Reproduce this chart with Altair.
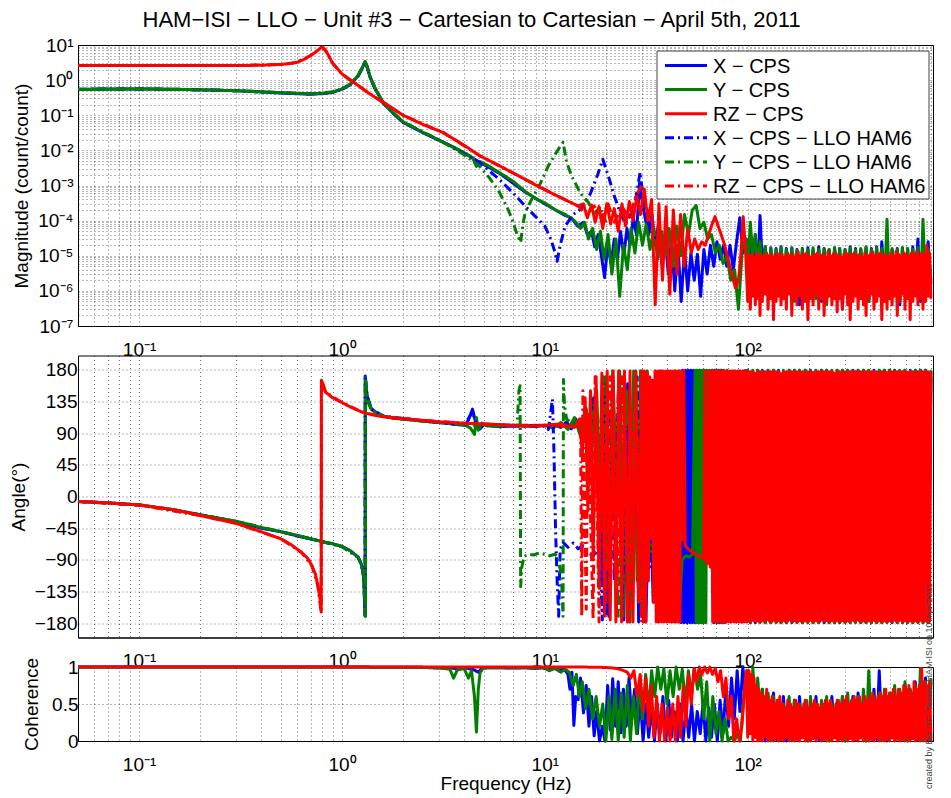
import altair as alt
import pandas as pd

TITLE = "HAM−ISI − LLO − Unit #3 − Cartesian to Cartesian − April 5th, 2011"
WATERMARK = "created by Biz_TF_Tester_HAM-ISI on 10-Apr-2011"
SERIES = ["X − CPS", "Y − CPS", "RZ − CPS",
          "X − CPS − LLO HAM6", "Y − CPS − LLO HAM6", "RZ − CPS − LLO HAM6"]
COLORS = ["#0000ff", "#007f00", "#ff0000", "#0000ff", "#007f00", "#ff0000"]
DASHES = [[1, 0], [1, 0], [1, 0], [9, 4, 2, 4], [9, 4, 2, 4], [9, 4, 2, 4]]
DRAW_ORDER = [0, 1, 3, 4, 5, 2]   # red solid drawn last, as in the picture

X_DOMAIN = [0.05, 819]
X_DECADES = [0.1, 1, 10, 100]
X_DECADE_LABELS = ["10⁻¹", "10⁰", "10¹", "10²"]
MAG_DECADES = [10.0, 1.0, 0.1, 0.01, 1e-3, 1e-4, 1e-5, 1e-6, 1e-7]
MAG_DECADE_LABELS = ["10¹", "10⁰", "10⁻¹", "10⁻²", "10⁻³", "10⁻⁴", "10⁻⁵", "10⁻⁶", "10⁻⁷"]
ANG_TICKS = [-180, -135, -90, -45, 0, 45, 90, 135, 180]
COH_TICKS = [0, 0.5, 1]

# frequency grid of the noisy high-frequency region (Hz), X and Y traces
HF_F = [100, 103, 106, 109, 112, 115, 118, 122, 126, 130,
        134, 138, 142, 146, 150, 155, 160, 165, 170, 175,
        180, 186, 192, 198, 204, 210, 217, 224, 231, 238,
        245, 252, 260, 268, 276, 284, 293, 302, 311, 320,
        330, 340, 350, 361, 372, 383, 395, 407, 419, 432,
        445, 458, 472, 486, 500, 515, 530, 546, 562, 579,
        596, 614, 632, 651, 670, 690, 710, 731, 752, 775,
        800]
# finer grid of the same region for the RZ trace (it fills the band solidly)
HF2_F = [100, 101.5, 103, 104.5, 106, 107.5, 109, 110.5, 112, 113.5,
         115, 116.5, 118, 120, 122, 124, 126, 128, 130, 132,
         134, 136, 138, 140, 142, 144, 146, 148, 150, 152.5,
         155, 157.5, 160, 162.5, 165, 167.5, 170, 172.5, 175, 177.5,
         180, 183, 186, 189, 192, 195, 198, 201, 204, 207,
         210, 213.5, 217, 220.5, 224, 227.5, 231, 234.5, 238, 241.5,
         245, 248.5, 252, 256, 260, 264, 268, 272, 276, 280,
         284, 288.5, 293, 297.5, 302, 306.5, 311, 315.5, 320, 325,
         330, 335, 340, 345, 350, 355.5, 361, 366.5, 372, 377.5,
         383, 389, 395, 401, 407, 413, 419, 425.5, 432, 438.5,
         445, 451.5, 458, 465, 472, 479, 486, 493, 500, 507.5,
         515, 522.5, 530, 538, 546, 554, 562, 570.5, 579, 587.5,
         596, 605, 614, 623, 632, 641.5, 651, 660.5, 670, 680,
         690, 700, 710, 720.5, 731, 741.5, 752, 763.5, 775, 787.5,
         800]

# ---------------- magnitude (count/count) ----------------
X_MAG = [(0.05, 0.55), (0.07, 0.56), (0.1, 0.56), (0.15, 0.55), (0.2, 0.53), (0.3, 0.5), (0.4, 0.46),
         (0.5, 0.43), (0.6, 0.41), (0.7, 0.40), (0.8, 0.41), (0.9, 0.45), (1.0, 0.55), (1.1, 0.75),
         (1.2, 1.3), (1.26, 2.2), (1.3, 3.3), (1.33, 2.4), (1.37, 1.3), (1.45, 0.6), (1.6, 0.22),
         (1.8, 0.11), (2.0, 0.063), (2.5, 0.032), (3.16, 0.017), (4.0, 0.0085), (4.77, 0.0046),
         (6.0, 0.0022), (8.0, 6.5e-4), (10.0, 3e-4), (12.6, 1.4e-4),
         (13.5, 1.2e-4), (14.5, 7e-5), (15.5, 9e-5), (16.2, 4e-5), (17.0, 5e-5), (17.6, 1.8e-5),
         (18.3, 4e-5), (19.0, 1e-5), (19.7, 2.4e-6), (20.4, 2e-5), (21.2, 6e-6), (22.0, 3e-5),
         (22.8, 8e-6), (23.6, 5e-5), (24.5, 1e-5), (25.4, 6e-5), (26.3, 2e-5), (27.3, 1.2e-4),
         (28.3, 4e-5), (29.3, 1.2e-3), (30.3, 3e-4), (31.4, 1e-4), (32.5, 4e-5), (33.7, 1.5e-4),
         (35.0, 2e-5), (36.3, 8e-5), (37.7, 6e-6), (39.1, 4e-5), (40.6, 3e-6), (42.1, 3e-5),
         (43.7, 1e-6), (45.3, 2e-5), (47.0, 5e-7), (48.8, 1.5e-5), (50.6, 1e-6), (52.5, 1.2e-5),
         (54.5, 2e-6), (56.5, 1.1e-5), (58.6, 7e-7), (60.8, 1.5e-5), (63.1, 3e-6), (65.5, 2e-5),
         (68.0, 5e-6), (70.5, 2.5e-5), (73.2, 8e-6), (76.0, 2e-5), (78.8, 5e-6), (81.8, 2e-5),
         (84.9, 4e-6), (88.1, 2.5e-5), (91.4, 1.2e-4), (94.8, 1.2e-5), (98.4, 3e-5)]
X_MAG_HF = [2e-6, 2.2e-5, 1.5e-6, 4e-5, 3e-6, 1.4e-4, 6e-6, 1.8e-5, 1.2e-6, 1.7e-5,
            8e-7, 1.6e-5, 1.5e-6, 1.8e-5, 6e-7, 1.6e-5, 1.3e-6, 1.7e-5, 9e-7, 1.5e-5,
            4e-7, 1.6e-5, 1.1e-6, 1.7e-5, 7e-7, 1.5e-5, 1.4e-6, 1.8e-5, 5e-7, 1.6e-5,
            1.2e-6, 1.5e-5, 8e-7, 1.7e-5, 1.5e-6, 1.6e-5, 3e-7, 1.5e-5, 1e-6, 1.8e-5,
            7e-7, 1.6e-5, 1.3e-6, 1.5e-5, 9e-7, 1.7e-5, 5e-7, 1.6e-5, 1.2e-6, 1.8e-5,
            8e-7, 2.5e-5, 1.4e-6, 1.7e-5, 6e-7, 1.5e-5, 1.1e-6, 1.6e-5, 4e-7, 1.7e-5,
            1e-6, 1.6e-5, 7e-7, 1.8e-5, 1.3e-6, 3e-5, 5e-7, 1.7e-5, 9e-7, 2.5e-5,
            1.5e-6]

Y_MAG = [(0.05, 0.54), (0.07, 0.55), (0.1, 0.56), (0.15, 0.55), (0.2, 0.53), (0.3, 0.5), (0.4, 0.47),
         (0.5, 0.44), (0.6, 0.42), (0.7, 0.41), (0.8, 0.42), (0.9, 0.46), (1.0, 0.56), (1.1, 0.77),
         (1.2, 1.35), (1.26, 2.3), (1.3, 3.4), (1.33, 2.5), (1.37, 1.35), (1.45, 0.62), (1.6, 0.22),
         (1.8, 0.11), (2.0, 0.065), (2.5, 0.033), (3.16, 0.017), (3.6, 0.012), (4.0, 0.0085),
         (4.4, 0.0062), (4.6, 0.0035), (4.8, 0.0048), (5.2, 0.0038), (6.0, 0.0023), (7.0, 0.0013),
         (8.0, 6.8e-4), (9.0, 4.2e-4), (10.0, 3.2e-4), (11.3, 2e-4), (12.6, 1.5e-4), (14.0, 1e-4),
         (15.0, 6e-5), (15.7, 9e-5), (16.4, 3e-5), (17.2, 6e-5), (18.0, 1.5e-5), (18.8, 5e-5),
         (19.6, 8e-6), (20.5, 4e-5), (21.4, 3e-6), (22.4, 3e-5), (23.4, 7e-7), (24.4, 2e-5),
         (25.5, 4e-6), (26.6, 6e-5), (27.8, 1.2e-5), (29.0, 9e-5), (30.3, 2e-5), (31.6, 8e-5),
         (33.0, 1.5e-5), (34.5, 6e-5), (36.0, 8e-6), (37.6, 5e-5), (39.3, 1e-5), (41.0, 6e-5),
         (42.8, 5e-6), (44.7, 7e-5), (46.7, 1e-5), (48.8, 1.5e-4), (51.0, 4e-5), (53.3, 2e-4),
         (55.7, 2.7e-4), (58.2, 6e-5), (60.8, 9e-5), (63.5, 3e-5), (66.3, 4e-5), (69.3, 1.2e-5),
         (72.4, 2e-5), (75.6, 6e-6), (79.0, 1e-5), (82.5, 2e-6), (86.2, 4e-6), (90.0, 3e-7),
         (94.0, 1.5e-5), (98.0, 3e-5)]
Y_MAG_HF = [3e-6, 9e-5, 1e-5, 4e-5, 5e-6, 2.5e-5, 3e-6, 1.8e-5, 1.5e-6, 1.6e-5,
            9e-7, 1.5e-5, 1.4e-6, 1.7e-5, 7e-7, 1.5e-5, 1.6e-6, 1.6e-5, 5e-7, 1.4e-5,
            1.2e-6, 1.6e-5, 8e-7, 1.5e-5, 1.5e-6, 1.7e-5, 6e-7, 1.5e-5, 1.3e-6, 1.6e-5,
            4e-7, 1.5e-5, 1.1e-6, 1.7e-5, 8e-7, 1.6e-5, 1.4e-6, 1.5e-5, 6e-7, 1.7e-5,
            1.2e-6, 1.5e-5, 9e-7, 1.6e-5, 1.5e-6, 1.8e-5, 5e-7, 1.5e-5, 1.1e-6, 1.7e-5,
            8e-7, 1.6e-5, 1.3e-6, 1.1e-4, 7e-7, 1.6e-5, 1.2e-6, 1.5e-5, 5e-7, 1.7e-5,
            1e-6, 1.6e-5, 8e-7, 1.5e-5, 1.3e-6, 1.7e-5, 6e-7, 1.1e-4, 1.2e-6, 1.6e-5,
            2e-6]

RZ_MAG = [(0.05, 2.6), (0.1, 2.6), (0.2, 2.6), (0.3, 2.6), (0.4, 2.65), (0.5, 2.8), (0.55, 2.95),
          (0.6, 3.2), (0.65, 3.9), (0.7, 5.0), (0.74, 6.2), (0.77, 7.5), (0.79, 8.6), (0.81, 8.4),
          (0.83, 7.0), (0.86, 5.0), (0.9, 3.0), (0.95, 2.1), (1.0, 1.5), (1.07, 1.1), (1.15, 0.85),
          (1.3, 0.5), (1.45, 0.33), (1.61, 0.23), (1.8, 0.15), (2.0, 0.1), (2.5, 0.055), (3.16, 0.032),
          (4.0, 0.014), (4.76, 0.0071), (6.0, 0.0036), (8.0, 0.0015), (10.0, 7.5e-4), (12.0, 4.5e-4),
          (14.6, 2.6e-4),
          (15.5, 3e-4), (16.2, 1.2e-4), (17.0, 2.8e-4), (17.7, 9e-5), (18.5, 2.5e-4), (19.3, 6e-5),
          (20.2, 3e-4), (21.1, 8e-5), (22.0, 2.2e-4), (23.0, 5e-5), (24.0, 3e-4), (25.0, 7e-5),
          (26.1, 3.5e-4), (27.2, 1e-4), (28.4, 5e-4), (29.6, 1.5e-4), (30.9, 8e-4), (32.2, 1e-4),
          (33.6, 4e-4), (35.0, 4e-7), (36.5, 3e-4), (38.0, 2e-6), (39.6, 2.5e-4), (41.3, 8e-7),
          (43.0, 2e-4), (44.8, 3e-6), (46.7, 1.5e-4), (48.6, 5e-6), (50.6, 6e-5), (52.7, 1.2e-5),
          (54.8, 3e-5), (57.0, 1.5e-5), (59.3, 2.5e-5), (61.7, 2e-5), (64.2, 4e-5), (66.8, 8e-5),
          (69.0, 1.3e-4), (71.5, 7e-5), (74.0, 4e-5), (77.0, 2e-5), (80.0, 8e-6), (83.5, 3e-6),
          (87.0, 1.2e-6), (90.0, 2e-6), (92.5, 1e-5), (95.0, 1.3e-4), (97.5, 1.5e-5)]
RZ_MAG_HF2 = [5e-7, 1e-5, 3e-7, 1.1e-5, 7e-7, 9e-6, 4e-7, 1.2e-5, 6e-7, 1e-5,
              2e-7, 1.1e-5, 5e-7, 9e-6, 8e-7, 1.2e-5, 3e-7, 1e-5, 6e-7, 1.1e-5,
              1.5e-7, 9e-6, 5e-7, 1.2e-5, 7e-7, 1e-5, 4e-7, 1.1e-5, 6e-7, 9e-6,
              3e-7, 1.2e-5, 8e-7, 1e-5, 2e-7, 1.1e-5, 6e-7, 9e-6, 4e-7, 1.3e-5,
              7e-7, 1e-5, 3e-7, 1.1e-5, 5e-7, 1.2e-5, 1.5e-7, 9e-6, 6e-7, 1e-5,
              4e-7, 1.1e-5, 8e-7, 1.2e-5, 3e-7, 1e-5, 6e-7, 1.1e-5, 2e-7, 9e-6,
              5e-7, 1.3e-5, 7e-7, 1e-5, 4e-7, 1.1e-5, 6e-7, 1.2e-5, 2.5e-7, 1e-5,
              6e-7, 9e-6, 3e-7, 1.1e-5, 8e-7, 1.2e-5, 4e-7, 1e-5, 1.5e-7, 1.1e-5,
              5e-7, 1.2e-5, 7e-7, 1e-5, 3e-7, 1.1e-5, 6e-7, 9e-6, 4e-7, 1.2e-5,
              2e-7, 1e-5, 6e-7, 1.1e-5, 8e-7, 1.3e-5, 3e-7, 1e-5, 5e-7, 1.1e-5,
              7e-7, 1.2e-5, 1.5e-7, 1e-5, 5e-7, 1.1e-5, 3e-7, 9e-6, 6e-7, 1.2e-5,
              4e-7, 1e-5, 7e-7, 1.3e-5, 2e-7, 1.1e-5, 5e-7, 1e-5, 8e-7, 1.2e-5,
              3e-7, 1.1e-5, 6e-7, 1e-5, 1.5e-7, 1.2e-5, 5e-7, 1.1e-5, 7e-7, 1.3e-5,
              4e-7, 1e-5, 6e-7, 1.2e-5, 3e-7, 1.1e-5, 5e-7, 2e-5, 7e-7, 1.2e-5,
              6e-7]

X6_MAG = [(0.05, 0.55), (0.1, 0.56), (0.2, 0.53), (0.3, 0.5), (0.5, 0.43), (0.7, 0.40), (0.9, 0.45),
          (1.0, 0.55), (1.1, 0.75), (1.2, 1.3), (1.26, 2.2), (1.3, 3.3), (1.33, 2.4), (1.37, 1.3),
          (1.45, 0.6), (1.6, 0.22), (2.0, 0.063), (3.16, 0.017), (4.77, 0.0045), (5.96, 0.0015),
          (7.0, 6e-4), (8.0, 2.6e-4), (9.0, 1.3e-4), (10.0, 7e-5), (10.7, 3e-5), (11.2, 1.3e-5),
          (11.5, 7e-6), (11.9, 2e-5), (12.6, 7e-5), (13.8, 1.5e-4), (15.2, 2.2e-4), (16.8, 6e-4),
          (18.2, 2e-3), (19.3, 5.6e-3), (20.0, 3e-3), (20.8, 1.5e-3), (22.0, 5e-4), (23.5, 1.7e-4),
          (25.0, 8e-5), (26.5, 1.5e-4), (28.0, 4e-4), (29.5, 2.4e-3), (31.0, 2e-4), (33.0, 6e-5),
          (35.0, 3e-5)]
Y6_MAG = [(0.05, 0.54), (0.1, 0.56), (0.2, 0.53), (0.3, 0.5), (0.5, 0.44), (0.7, 0.41), (0.9, 0.46),
          (1.0, 0.56), (1.1, 0.77), (1.2, 1.35), (1.26, 2.3), (1.3, 3.4), (1.33, 2.5), (1.37, 1.35),
          (1.45, 0.62), (1.6, 0.22), (2.0, 0.065), (3.16, 0.017), (4.0, 0.0075), (4.76, 0.0036),
          (5.4, 0.0015), (5.96, 6.5e-4), (6.5, 2.5e-4), (6.9, 1.1e-4), (7.3, 4e-5), (7.6, 2.4e-5),
          (7.8, 8e-5), (8.0, 1.7e-4), (8.6, 4e-4), (9.4, 1e-3), (10.4, 3.6e-3), (11.3, 8e-3),
          (12.0, 1.4e-2), (12.3, 1.7e-2), (12.8, 4.6e-3), (13.6, 1.8e-3), (14.6, 8e-4), (15.5, 4.5e-4),
          (16.4, 3.3e-4), (17.5, 1.5e-4), (18.7, 2.5e-4), (20.0, 9e-5)]
RZ6_MAG = [(0.05, 2.6), (0.1, 2.6), (0.2, 2.6), (0.3, 2.6), (0.5, 2.8), (0.6, 3.2), (0.7, 5.0),
           (0.77, 7.5), (0.8, 8.7), (0.83, 7.0), (0.9, 3.0), (1.0, 1.5), (1.15, 0.85), (1.45, 0.33),
           (2.0, 0.1), (3.16, 0.032), (4.76, 0.0071), (8.0, 0.0015), (12.0, 4.5e-4), (14.6, 2.6e-4),
           (16.0, 1.5e-4), (17.5, 2.6e-4), (19.0, 1.1e-4), (20.5, 3e-4), (22.0, 9e-5), (24.0, 2.5e-4),
           (26.0, 1.2e-4), (28.0, 4.5e-4), (30.0, 1e-3)]

# ---------------- angle (degrees) ----------------
X_ANG = [(0.05, -7), (0.07, -9), (0.1, -12), (0.15, -19), (0.2, -26), (0.3, -36), (0.4, -45), (0.5, -50),
         (0.6, -56), (0.7, -60), (0.8, -64), (0.9, -67), (1.0, -71), (1.1, -77), (1.2, -86), (1.25, -97),
         (1.28, -115), (1.3, -169), (1.302, 171), (1.31, 160), (1.33, 143), (1.36, 132), (1.4, 124),
         (1.5, 118), (1.6, 114), (1.8, 111), (2.1, 110), (2.5, 107), (3.0, 105), (3.5, 103), (4.0, 101),
         (4.2, 108), (4.4, 124), (4.6, 100), (4.8, 96), (5.0, 102), (5.5, 100), (6.0, 99), (7.0, 100),
         (8.0, 100), (9.0, 101), (10.0, 100), (11.0, 102), (12.0, 98), (12.8, 106), (13.5, 96),
         (14.2, 110), (15.0, 90), (15.8, 120), (16.6, 70), (17.4, 140), (18.2, 10), (19.0, -120),
         (19.8, 150), (20.7, -170), (21.6, 170), (22.5, -60), (23.5, 130), (24.5, -175), (25.6, 160),
         (26.7, -20), (27.8, 175), (29.0, -178), (30.2, 178), (31.5, -178), (32.8, 60), (34.2, -150),
         (35.7, 120), (37.2, -100), (38.8, 150), (40.5, -170), (42.3, 170), (44.1, -178), (46.0, 178),
         (47.0, -179), (47.8, 179), (48.6, -179), (49.4, 179), (50.2, -179), (51.0, 179), (51.8, -179),
         (52.6, 179), (53.4, -179), (54.2, 179), (55.0, -179), (56.0, 179), (57.0, -179), (58.0, 179),
         (59.2, -179), (60.5, 100), (63.0, 60), (65.5, -100), (66.8, 179), (68.0, -179), (69.2, 179),
         (70.5, -179), (71.8, 179), (73.0, -179), (74.3, 179), (75.5, -179), (78.0, 120), (81.0, -150),
         (84.0, 170), (87.0, -175), (90.0, 175), (93.0, -178), (96.5, 178)]
X_ANG_HF = [179, -179, 150, -179, 179, -175, 179, -179, 179, -179,
            179, -178, 179, -179, 175, -179, 179, -179, 179, -177,
            179, -179, 179, -178, 179, -179, 178, -179, 179, -179,
            179, -179, 177, -179, 179, -179, 179, -178, 179, -179,
            179, -178, 179, -179, 179, -179, 178, -179, 179, -179,
            179, -179, 179, -177, 179, -179, 179, -179, 178, -179,
            179, -179, 179, -179, 179, -178, 179, -179, 179, -179,
            170]
Y_ANG = [(0.05, -7), (0.07, -9), (0.1, -12), (0.15, -19), (0.2, -26), (0.3, -35), (0.4, -44), (0.5, -50),
         (0.6, -55), (0.7, -60), (0.8, -64), (0.9, -67), (1.0, -71), (1.1, -77), (1.2, -86), (1.25, -97),
         (1.28, -112), (1.305, -170), (1.307, 168), (1.315, 155), (1.33, 140), (1.36, 130), (1.4, 123),
         (1.5, 117), (1.6, 114), (1.8, 111), (2.1, 109), (2.5, 107), (3.0, 105), (3.5, 104), (4.0, 102),
         (4.3, 97), (4.5, 88), (4.6, 112), (4.7, 94), (4.9, 104), (5.2, 100), (6.0, 100), (7.0, 101),
         (8.0, 100), (9.0, 99), (10.0, 101), (11.0, 97), (12.0, 105), (13.0, 95), (14.0, 112), (15.0, 85),
         (16.0, 125), (17.0, 60), (18.0, 150), (19.0, -40), (20.0, 170), (20.8, -150), (21.6, 178),
         (22.5, 40), (23.4, 178), (24.3, -170), (25.3, 150), (26.3, -178), (27.4, 178), (28.5, -120),
         (29.6, 178), (30.8, -178), (32.0, 178), (33.3, -90), (34.6, 160), (36.0, -178), (37.5, 178),
         (39.0, -160), (40.6, 178), (42.2, -178), (43.9, 178), (45.7, -178), (47.5, -90), (49.4, -84),
         (51.4, -86), (53.5, -82), (55.0, 179), (55.8, -179), (56.6, 179), (57.4, -179), (58.2, 179),
         (59.0, -179), (59.8, 179), (60.6, -179), (61.4, 179), (62.2, -179), (63.0, 179), (64.0, 75),
         (65.0, 179), (66.0, 100), (67.0, 179), (68.0, 80), (70.0, 179), (71.5, -179), (73.0, 179),
         (74.5, -179), (76.0, 179), (77.5, -179), (79.0, 179), (82.0, -178), (85.0, 178), (88.0, -178),
         (91.0, 178), (94.0, -178), (97.0, 178)]
Y_ANG_HF = [179, -179, 179, -160, 179, -179, 178, -179, 179, -179,
            179, -179, 178, -179, 179, -179, 179, -178, 179, -179,
            179, -179, 179, -179, 178, -179, 179, -179, 179, -177,
            179, -179, 179, -179, 179, -178, 179, -179, 179, -179,
            178, -179, 179, -179, 179, -179, 179, -179, 177, -179,
            179, -179, 179, -179, 179, -178, 179, -179, 179, -179,
            179, -179, 178, -179, 179, -179, 179, -179, 179, -179,
            179]
RZ_ANG = [(0.05, -7), (0.07, -9), (0.1, -12), (0.15, -19), (0.2, -27), (0.3, -38), (0.4, -50), (0.5, -60),
          (0.56, -68), (0.63, -79), (0.68, -88), (0.71, -98), (0.74, -110), (0.76, -126), (0.78, -145),
          (0.79, -164), (0.792, 165), (0.81, 158), (0.83, 148), (0.9, 140), (0.99, 134), (1.1, 127),
          (1.25, 120), (1.4, 116), (1.6, 113), (2.1, 110), (2.5, 108), (3.0, 106), (4.0, 104), (5.0, 103),
          (6.0, 102), (7.0, 101), (8.0, 100), (9.0, 100), (10.0, 101), (11.0, 102), (12.0, 103),
          (13.0, 100), (14.0, 98),
          (14.8, 110), (15.3, 60), (15.8, 140), (16.3, -20), (16.8, 150), (17.3, -90), (17.9, 170),
          (18.5, -130), (19.1, 175), (19.7, -170), (20.3, 178), (21.0, -175), (21.7, 178), (22.4, -178),
          (23.1, 178), (23.9, -178), (24.7, 178), (25.5, -178), (26.3, 178), (27.2, -178), (28.1, 178),
          (29.0, -150),
          (30.0, 178), (30.5, -178), (31.0, 178), (31.4, -178), (31.9, 176), (32.4, -120), (32.9, 170),
          (33.4, -60), (33.9, 165), (34.4, -150), (34.9, 178), (35.4, -178), (36.0, 178), (36.5, -178),
          (37.0, 178), (37.6, -178), (38.2, 178), (38.7, -178), (39.3, 178), (39.9, -178), (40.5, 178),
          (41.1, -178), (41.7, 178), (42.4, -178), (43.0, 178), (43.6, -178), (44.3, 178), (45.0, -178),
          (45.6, 178), (46.3, -178), (47.0, 178), (47.7, -62), (48.4, 178), (49.2, -70), (50.7, -74),
          (52.2, -77), (53.8, -80), (55.4, -82), (57.1, -84), (58.8, -86), (60.6, -88), (61.5, 178),
          (62.4, -92), (63.3, -95), (64.3, 178), (65.3, -100), (66.2, 178), (67.2, -178), (68.2, 178),
          (69.3, -178), (70.3, 178), (71.4, -178), (72.4, 178), (73.5, -178), (74.6, 178), (75.8, -178),
          (76.9, 178), (78.1, -178), (79.2, 178), (80.4, -178), (81.6, 178), (82.9, -178), (84.1, 178),
          (85.4, -178), (86.7, 178), (88.0, -178), (89.3, 178), (90.6, -178), (92.0, 178), (93.4, -178),
          (94.8, 178), (96.2, -178), (97.6, 178), (99.1, -178)]
RZ_ANG_HF2 = [177, -177, 177, -176, 177, -177, 175, -177, 177, -177,
              177, -177, 176, -177, 177, -175, 177, -177, 177, -177,
              177, -176, 177, -177, 177, -177, 174, -177, 177, -177,
              177, -177, 177, -175, 177, -177, 176, -177, 177, -177,
              177, -177, 177, -177, 175, -177, 177, -176, 177, -177,
              176, -177, 177, -177, 177, -177, 177, -175, 177, -177,
              177, -176, 177, -177, 177, -177, 175, -177, 177, -177,
              177, -177, 176, -177, 177, -177, 177, -177, 177, -176,
              177, -177, 177, -175, 177, -177, 177, -177, 176, -177,
              177, -177, 177, -177, 177, -176, 177, -177, 177, -177,
              175, -177, 177, -177, 177, -177, 176, -177, 177, -177,
              177, -175, 177, -177, 177, -177, 177, -176, 177, -177,
              177, -177, 176, -177, 177, -177, 177, -177, 175, -177,
              177, -177, 177, -176, 177, -177, 177, -177, 177, -177,
              177]
X6_ANG = [(0.05, -7), (0.1, -12), (0.2, -26), (0.3, -36), (0.5, -50), (0.7, -60), (1.0, -71), (1.2, -86),
          (1.25, -97), (1.28, -115), (1.3, -169), (1.302, 171), (1.33, 143), (1.4, 124), (1.6, 114),
          (2.1, 110), (3.0, 105), (4.0, 101), (4.4, 120), (4.6, 102), (5.0, 101), (7.0, 100), (10.0, 100),
          (10.4, 95), (10.7, 120), (10.9, 138), (11.1, 60), (11.3, -50), (11.5, -120), (11.7, -170),
          (11.9, -75), (12.3, -65), (13.0, -72), (13.8, -66), (14.6, -74), (15.5, -70), (16.4, -80),
          (17.3, -84), (18.2, -76), (18.8, -100), (19.2, -175), (19.6, 160), (20.2, -170), (21.0, 120),
          (22.0, -120), (23.0, 150), (24.0, -160), (25.5, 100), (27.0, -140), (28.5, 170), (30.0, -170),
          (31.5, 120), (33.0, -100), (35.0, 160)]
Y6_ANG = [(0.05, -7), (0.1, -12), (0.2, -26), (0.3, -35), (0.5, -50), (0.7, -60), (1.0, -71), (1.2, -86),
          (1.25, -97), (1.28, -112), (1.305, -170), (1.307, 168), (1.33, 140), (1.4, 123), (1.6, 114),
          (2.1, 109), (3.0, 105), (4.0, 102), (5.0, 101), (6.0, 100), (7.0, 101), (7.3, 100), (7.45, 150),
          (7.55, 157), (7.6, -128), (7.7, -100), (7.9, -85), (8.3, -82), (8.8, -83), (9.4, -80),
          (10.0, -82), (10.6, -84), (11.2, -82), (11.7, -86), (12.1, -120), (12.3, -170), (12.35, 166),
          (12.5, 130), (12.8, 110), (13.5, 104), (14.5, 100), (15.5, 110), (16.5, 90), (17.5, 130),
          (18.5, 60), (19.5, 170), (20.5, -100), (21.5, 160), (23.0, -170), (24.5, 150), (26.0, -120),
          (28.0, 170), (30.0, -170)]
RZ6_ANG = [(0.05, -7), (0.1, -12), (0.2, -27), (0.3, -38), (0.5, -60), (0.63, -79), (0.71, -98),
           (0.76, -126), (0.79, -164), (0.792, 165), (0.83, 148), (0.99, 134), (1.25, 120), (1.6, 113),
           (2.5, 108), (4.0, 104), (7.0, 101), (10.0, 101), (14.0, 99), (14.5, 100), (15.0, 110),
           (15.2, -170), (15.4, 150), (16.0, -160), (16.3, 120), (17.3, -175), (17.7, 170), (18.5, -178),
           (19.2, 160), (20.0, -150), (21.0, 170), (22.5, -170), (24.0, 170), (26.0, -178), (28.0, 178),
           (30.0, -178), (31.0, 170)]

# ---------------- coherence ----------------
X_COH = [(0.05, 1.0), (1.0, 1.0), (2.5, 0.995), (3.0, 0.985), (3.4, 0.99), (3.7, 0.975), (4.0, 0.99),
         (4.4, 0.97), (4.7, 0.93), (4.9, 0.985), (5.3, 0.99), (6.0, 0.99), (7.0, 0.985), (8.0, 0.99),
         (9.0, 0.98), (9.7, 0.99), (10.3, 0.97), (11.0, 0.985), (11.8, 0.96), (12.5, 0.97), (13.0, 0.9),
         (13.3, 0.7), (13.6, 0.93), (13.9, 0.21), (14.2, 0.6), (14.6, 0.56), (15.0, 0.85), (15.5, 0.38),
         (16.0, 0.75), (16.5, 0.2), (17.0, 0.6), (17.5, 0.07), (18.0, 0.4), (18.6, 0.0), (19.2, 0.2),
         (19.8, 0.0), (20.4, 0.75), (21.0, 0.15), (21.6, 0.84), (22.3, 0.2), (23.0, 0.8), (23.7, 0.11),
         (24.4, 0.7), (25.2, 0.2), (26.0, 0.85), (26.8, 0.3), (27.7, 0.7), (28.6, 0.1), (29.5, 0.6),
         (30.5, 0.0), (31.5, 0.5), (32.5, 0.05), (33.6, 0.45), (34.7, 0.0), (35.8, 0.5), (37.0, 0.1),
         (38.2, 0.6), (39.5, 0.0), (40.8, 0.55), (42.1, 0.05), (43.5, 0.4), (45.0, 0.0), (46.5, 0.5),
         (48.0, 0.0), (49.6, 0.45), (51.2, 0.05), (52.9, 0.5), (54.6, 0.0), (56.4, 0.4), (58.3, 0.1),
         (60.2, 0.5), (62.2, 0.0), (64.2, 0.45), (66.3, 0.05), (68.5, 0.5), (70.8, 0.0), (73.1, 0.55),
         (75.5, 0.1), (78.0, 0.7), (80.5, 0.2), (83.2, 0.85), (85.9, 0.3), (88.7, 0.95), (91.6, 0.4),
         (94.6, 1.0), (97.7, 0.6)]
X_COH_HF = [0.95, 0.1, 0.9, 0.05, 0.8, 0.15, 0.7, 0.0, 0.6, 0.1,
            0.65, 0.02, 0.55, 0.12, 0.6, 0.0, 0.5, 0.08, 0.55, 0.03,
            0.6, 0.1, 0.5, 0.0, 0.55, 0.06, 0.6, 0.02, 0.5, 0.1,
            0.55, 0.0, 0.6, 0.05, 0.5, 0.12, 0.6, 0.0, 0.55, 0.08,
            0.6, 0.03, 0.65, 0.1, 0.55, 0.0, 0.6, 0.07, 0.7, 0.02,
            0.95, 0.1, 0.65, 0.0, 0.6, 0.08, 0.7, 0.03, 0.65, 0.12,
            0.75, 0.0, 0.7, 0.06, 0.8, 0.02, 0.75, 0.1, 0.85, 0.0,
            0.8]
Y_COH = [(0.05, 1.0), (1.0, 1.0), (2.5, 0.995), (3.0, 0.99), (3.4, 0.97), (3.55, 0.85), (3.7, 0.96),
         (4.0, 0.98), (4.2, 0.85), (4.35, 0.95), (4.5, 0.6), (4.6, 0.12), (4.7, 0.7), (4.8, 0.93),
         (5.0, 0.99), (6.0, 0.99), (7.0, 0.99), (8.0, 0.99), (9.0, 0.985), (10.0, 0.99), (10.5, 0.95),
         (11.2, 0.98), (12.0, 0.93), (12.6, 0.97), (13.2, 0.93), (13.8, 0.75), (14.3, 0.9), (14.8, 0.6),
         (15.3, 0.8), (15.9, 0.44), (16.5, 0.7), (17.2, 0.3), (17.9, 0.6), (18.6, 0.2), (19.3, 0.5),
         (20.0, 0.0), (20.7, 0.6), (21.4, 0.02), (22.2, 0.7), (23.0, 0.0), (23.8, 0.65), (24.6, 0.05),
         (25.5, 0.75), (26.4, 0.0), (27.3, 0.6), (28.3, 0.1), (29.3, 0.8), (30.3, 0.3), (31.4, 0.9),
         (32.5, 0.4), (33.6, 0.95), (34.8, 0.6), (36.0, 1.0), (37.3, 0.7), (38.6, 0.98), (40.0, 0.5),
         (41.4, 0.95), (42.9, 0.6), (44.4, 1.0), (46.0, 0.7), (47.6, 0.97), (49.3, 0.5), (51.0, 0.95),
         (52.8, 0.6), (54.7, 0.98), (56.6, 0.7), (58.6, 0.9), (60.7, 0.3), (62.8, 0.8), (65.0, 0.0),
         (67.3, 0.6), (69.7, 0.1), (72.2, 0.4), (74.7, 0.0), (77.3, 0.3), (80.0, 0.0), (83.0, 0.05),
         (86.0, 0.0), (89.0, 0.1), (92.0, 0.0), (95.0, 0.5), (98.0, 0.9)]
Y_COH_HF = [0.95, 0.1, 1.0, 0.3, 0.85, 0.05, 0.7, 0.1, 0.65, 0.0,
            0.6, 0.08, 0.55, 0.02, 0.5, 0.1, 0.6, 0.0, 0.55, 0.05,
            0.5, 0.12, 0.55, 0.0, 0.6, 0.05, 0.5, 0.1, 0.55, 0.02,
            0.6, 0.0, 0.5, 0.1, 0.55, 0.05, 0.6, 0.0, 0.65, 0.08,
            0.55, 0.02, 0.6, 0.1, 0.7, 0.0, 0.95, 0.05, 0.6, 0.1,
            0.65, 0.0, 0.7, 0.05, 0.65, 0.1, 0.75, 0.02, 0.7, 0.08,
            0.8, 0.0, 0.7, 0.06, 0.75, 0.1, 0.98, 0.0, 0.8, 0.05,
            0.85]
RZ_COH = [(0.05, 1.0), (1.0, 1.0), (5.0, 1.0), (10.0, 1.0), (15.0, 1.0), (19.0, 0.995), (21.0, 0.99),
          (22.5, 0.98), (24.0, 0.96), (25.5, 0.93), (26.5, 0.85), (27.5, 0.95), (28.5, 0.6), (29.5, 0.9),
          (30.5, 0.4), (31.5, 0.85), (32.5, 0.2), (33.5, 0.75), (34.5, 0.05), (35.6, 0.6), (36.7, 0.0),
          (37.8, 0.5), (39.0, 0.0), (40.2, 0.45), (41.4, 0.0), (42.7, 0.5), (44.0, 0.0), (45.3, 0.6),
          (46.7, 0.05), (48.1, 0.75), (49.6, 0.2), (51.1, 0.9), (52.7, 0.5), (54.3, 0.98), (56.0, 0.8),
          (57.7, 1.0), (59.5, 0.9), (61.3, 1.0), (63.2, 0.92), (65.1, 1.0), (67.1, 0.9), (69.2, 0.98),
          (71.3, 0.8), (73.5, 0.95), (75.8, 0.6), (78.1, 0.85), (80.5, 0.3), (83.0, 0.6), (85.5, 0.0),
          (88.1, 0.3), (90.8, 0.0), (93.6, 0.2), (96.5, 0.7), (98.5, 0.95)]
RZ_COH_HF2 = [0.05, 0.95, 0.1, 0.9, 0.0, 0.85, 0.05, 0.75, 0.0, 0.7,
              0.02, 0.65, 0.0, 0.6, 0.05, 0.7, 0.0, 0.55, 0.03, 0.6,
              0.0, 0.5, 0.04, 0.55, 0.0, 0.6, 0.02, 0.5, 0.0, 0.45,
              0.05, 0.55, 0.0, 0.5, 0.03, 0.45, 0.0, 0.55, 0.02, 0.5,
              0.0, 0.45, 0.04, 0.5, 0.0, 0.55, 0.02, 0.45, 0.0, 0.5,
              0.03, 0.55, 0.0, 0.5, 0.05, 0.45, 0.0, 0.5, 0.02, 0.55,
              0.0, 0.5, 0.03, 0.55, 0.0, 0.45, 0.04, 0.5, 0.0, 0.55,
              0.02, 0.5, 0.0, 0.55, 0.05, 0.6, 0.0, 0.5, 0.03, 0.55,
              0.0, 0.6, 0.02, 0.55, 0.0, 0.6, 0.04, 0.5, 0.0, 0.6,
              0.03, 0.55, 0.0, 0.6, 0.02, 0.65, 0.0, 0.55, 0.05, 0.6,
              0.0, 0.65, 0.03, 0.6, 0.0, 0.7, 0.02, 0.6, 0.0, 0.65,
              0.04, 0.7, 0.0, 0.6, 0.03, 0.7, 0.0, 0.65, 0.02, 0.75,
              0.0, 0.7, 0.05, 0.75, 0.0, 0.65, 0.03, 0.8, 0.0, 0.7,
              0.02, 0.75, 0.0, 0.98, 0.04, 0.8, 0.0, 0.75, 0.03, 0.8,
              0.0]


def frame(pairs, hf, grid, name):
    pts = list(pairs) + list(zip(grid, hf))
    return pd.DataFrame({"f": [p[0] for p in pts], "v": [p[1] for p in pts], "series": name})


def decade_expr(values, labels):
    parts = [f"abs(datum.value / {v!r} - 1) < 1e-6 ? '{lab}'" for v, lab in zip(values, labels)]
    return " : ".join(parts) + " : ''"


X_TICKS = [float(f"{m}e{e}") for e in (-2, -1, 0, 1, 2) for m in range(1, 10)
           if X_DOMAIN[0] <= float(f"{m}e{e}") <= X_DOMAIN[1]]
MAG_TICKS = [float(f"{m}e{e}") for e in range(-7, 1) for m in range(1, 10)] + [10.0]

FONT = "Liberation Sans"
LW = 3
W = 855

xscale = alt.Scale(type="log", domain=X_DOMAIN, nice=False)


def x_axis(title=None):
    kw = dict(values=X_TICKS, labelExpr=decade_expr(X_DECADES, X_DECADE_LABELS), grid=True,
              ticks=False, tickSize=0, labelPadding=14, labelFlush=False, labelOverlap=False,
              labelFontSize=19)
    if title:
        return alt.Axis(title=title, titleFontSize=19, titlePadding=0, **kw)
    return alt.Axis(title=None, **kw)


mag_axis = alt.Axis(title="Magnitude (count/count)", values=MAG_TICKS,
                    labelExpr=decade_expr(MAG_DECADES, MAG_DECADE_LABELS), grid=True, ticks=False,
                    tickSize=0, labelPadding=5, labelOverlap=False, labelFontSize=19,
                    titleFontSize=19, titlePadding=6)
ang_axis = alt.Axis(title="Angle(°)", values=ANG_TICKS, grid=True, ticks=False, tickSize=0,
                    labelPadding=1, labelOverlap=False, labelFontSize=19, titleFontSize=19,
                    titlePadding=6)
coh_axis = alt.Axis(title="Coherence", values=COH_TICKS, grid=True, ticks=False, tickSize=0,
                    labelPadding=0, labelOverlap=False, labelFontSize=19, titleFontSize=19,
                    titlePadding=10, labelExpr="datum.value == 0.5 ? '0.5' : format(datum.value, 'd')")


def line_layers(data, yscale, yaxis, xax, order):
    out = []
    for i in order:
        if i >= len(data):
            continue
        pairs, hf, grid = data[i]
        out.append(
            alt.Chart(frame(pairs, hf, grid, SERIES[i])).mark_line(
                strokeWidth=LW, strokeJoin="round", color=COLORS[i], strokeDash=DASHES[i]
            ).encode(
                x=alt.X("f:Q", scale=xscale, axis=xax),
                y=alt.Y("v:Q", scale=yscale, axis=yaxis),
            ))
    return out


MAG_DATA = [(X_MAG, X_MAG_HF, HF_F), (Y_MAG, Y_MAG_HF, HF_F), (RZ_MAG, RZ_MAG_HF2, HF2_F),
            (X6_MAG, [], HF_F), (Y6_MAG, [], HF_F), (RZ6_MAG, [], HF_F)]
ANG_DATA = [(X_ANG, X_ANG_HF, HF_F), (Y_ANG, Y_ANG_HF, HF_F), (RZ_ANG, RZ_ANG_HF2, HF2_F),
            (X6_ANG, [], HF_F), (Y6_ANG, [], HF_F), (RZ6_ANG, [], HF_F)]
COH_DATA = [(X_COH, X_COH_HF, HF_F), (Y_COH, Y_COH_HF, HF_F), (RZ_COH, RZ_COH_HF2, HF2_F)]

# ----- legend box (drawn inside the magnitude panel, top right) -----
LEG_RIGHT = W - 4
LEG_LEFT = LEG_RIGHT - 272
LEG_TOP, LEG_BOTTOM = 6, 154
legend_layers = [
    alt.Chart(pd.DataFrame({"k": [0]})).mark_rect(fill="white", stroke="#444", strokeWidth=1).encode(
        x=alt.value(LEG_LEFT), x2=alt.value(LEG_RIGHT), y=alt.value(LEG_TOP), y2=alt.value(LEG_BOTTOM))
]
for i, name in enumerate(SERIES):
    yy = 20.5 + 24.1 * i
    row = pd.DataFrame({"series": [name]})
    legend_layers.append(
        alt.Chart(row).mark_rule(color=COLORS[i], strokeWidth=3, strokeDash=DASHES[i]).encode(
            x=alt.value(LEG_LEFT + 8), x2=alt.value(LEG_LEFT + 50), y=alt.value(yy)))
    legend_layers.append(
        alt.Chart(row).mark_text(align="left", baseline="middle", fontSize=20, font=FONT,
                                 color="black").encode(
            x=alt.value(LEG_LEFT + 56), y=alt.value(yy + 1), text="series:N"))

top = alt.layer(
    *line_layers(MAG_DATA, alt.Scale(type="log", domain=[1e-7, 10], nice=False), mag_axis, x_axis(),
                 DRAW_ORDER),
    *legend_layers,
).properties(width=W, height=281)

mid = alt.layer(
    *line_layers(ANG_DATA, alt.Scale(domain=[-200, 200], nice=False), ang_axis, x_axis(), DRAW_ORDER)
).properties(width=W, height=282)

coh = alt.layer(
    *line_layers(COH_DATA, alt.Scale(domain=[0, 1], nice=False), coh_axis, x_axis("Frequency (Hz)"),
                 DRAW_ORDER),
    alt.Chart(pd.DataFrame({"t": [WATERMARK]})).mark_text(
        angle=270, align="left", baseline="bottom", fontSize=9, font=FONT, color="#444"
    ).encode(x=alt.value(W + 1), y=alt.value(122), text="t:N"),
).properties(width=W, height=74)

chart = alt.vconcat(top, mid, coh, spacing=29.5, bounds="flush").properties(
    title=alt.TitleParams(TITLE, fontSize=22, font=FONT, fontWeight="normal", color="black",
                          anchor="middle", offset=4),
    padding={"left": 0, "top": 0, "right": 0, "bottom": 0},
    background="white",
).configure_view(stroke="black", strokeWidth=1).configure_axis(
    labelFont=FONT, titleFont=FONT, labelColor="black", titleColor="black", titleFontWeight="normal",
    domainColor="black", domainWidth=1, gridColor="black", gridDash=[1, 3], gridOpacity=0.55,
    gridWidth=1,
)

chart.save("out.html", embed_options={"renderer": "svg", "actions": False})
